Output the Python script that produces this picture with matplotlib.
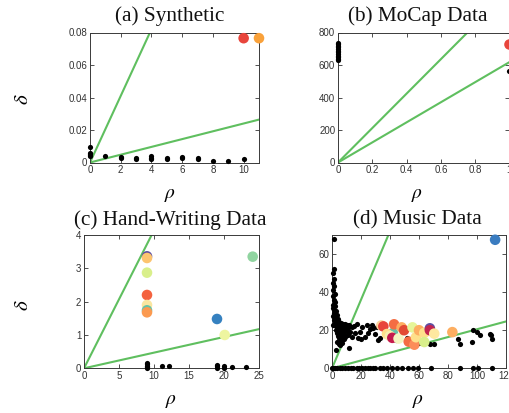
import matplotlib
matplotlib.use('Agg')
import matplotlib.pyplot as plt
import numpy as np

# Schriften: Titel in Times-artig, Ticks Helvetica-artig, Griechisch per mathtext (stix)
plt.rcParams['font.family'] = ['Liberation Sans', 'DejaVu Sans']
plt.rcParams['mathtext.fontset'] = 'stix'

GREEN = '#5fbf5f'
FRAME = '#3a3a3a'

# ---- (a) Synthetic ----
a_rho_black = [0, 0, 0, 0, 0, 1, 2, 2, 3, 3, 4, 4, 4, 5, 5, 6, 6, 7, 7, 8, 9, 10]
a_delta_black = [0.0095, 0.006, 0.0052, 0.0045, 0.004, 0.0042, 0.0033, 0.0025,
                 0.0028, 0.0022, 0.0038, 0.003, 0.0024, 0.0028, 0.0022, 0.0034,
                 0.0025, 0.003, 0.002, 0.0008, 0.0012, 0.0023]
a_rho_peak = [10, 11]
a_delta_peak = [0.0765, 0.0765]
a_colors = ['#e8453c', '#f9a13a']
a_slopes = [0.0205, 0.0024]

# ---- (b) MoCap Data ----
b_rho_black = [0, 0, 0, 0, 0, 0, 0, 0, 0, 0, 0, 0, 1.0]
b_delta_black = [628, 638, 648, 658, 668, 678, 688, 698, 708, 718, 728, 736, 565]
b_rho_peak = [1.0]
b_delta_peak = [732]
b_colors = ['#e8453c']
b_slopes = [1060, 618]

# ---- (c) Hand-Writing Data ----
c_rho_black = [9, 9, 9, 9, 9, 11.1, 12.1, 19, 19, 19, 20, 20, 21.1, 23.1]
c_delta_black = [0.0, 0.04, 0.08, 0.12, 0.15, 0.06, 0.07, 0.02, 0.06, 0.1,
                 0.02, 0.06, 0.05, 0.04]
c_rho_peak = [9, 9, 9, 9, 9, 9, 9, 19, 20.1, 24.1]
c_delta_peak = [3.36, 3.31, 2.87, 2.2, 1.9, 1.74, 1.68, 1.48, 1.0, 3.35]
c_colors = ['#5e4fa2', '#fdc46f', '#d9ef8b', '#f4623f', '#fae6a0', '#66c2a5',
            '#fb9a50', '#3581c0', '#eef5a0', '#90d4a0']
c_slopes = [0.414, 0.047]

# ---- (d) Music Data ----
d_rho_black = [1.5, 1.5, 1, 1.2, 0.8, 1.5, 1, 1.8, 0.6, 1.2, 2, 1, 2.2, 0.7, 1.6,
               2.8, 1.2, 2.4, 3.5, 0.8, 1.8, 3, 4.2, 1.3, 2.6, 3.8, 5, 2, 6.5,
               3.2, 1, 4.5, 7.5, 9, 2.8, 5.8, 8.2, 10.5, 12, 3.6, 4.8, 6.8, 9.5,
               11.2, 13.5, 2.5, 5.5, 7.8, 10, 12.5, 3.2, 6.2, 8.5, 4.2, 7, 9.2,
               11, 5, 6, 8, 3.5, 4.8, 7.2, 5.8, 2.5, 11.7,
               15, 17, 19.3, 21, 22.8, 23.9, 26.2, 27.4, 29.7, 31, 32, 33, 25,
               18, 16, 14, 20, 28, 40, 44, 52, 53, 58, 60, 67.6, 70, 87, 88.5,
               96.3, 97.5, 99.8, 102, 109, 109.6, 110,
               0, 1, 2, 3.2, 5.5, 7, 9, 11.3, 13, 14.7, 17, 18.5, 20.5, 22.8,
               24.5, 26.2, 28, 29.7, 33.1, 35.4, 37.7, 41.1, 44.6, 48, 52.6, 56,
               59.5, 68.5, 88, 97, 100.5, 110]
d_delta_black = [68, 52, 50, 47, 45, 43, 41, 39, 38, 36, 35, 33.5, 32.5, 31.5,
                 30.5, 30, 29, 28.2, 28, 27.5, 27, 26.5, 26, 25.5, 25, 24.5,
                 24.2, 24, 24, 23.5, 23, 23, 23.2, 23.5, 22.2, 22, 22, 22.5, 23,
                 21.2, 20.5, 21, 21, 21, 21.5, 20, 19.5, 19.8, 19.5, 19.2, 18.5,
                 18.2, 18, 17.2, 16.8, 16.5, 17.5, 15.8, 14.5, 15.2, 14, 13,
                 13.2, 12, 9.5, 10.8,
                 22, 23.5, 19, 21.5, 16.4, 22.5, 20.8, 22.5, 18.2, 21.8, 15, 16,
                 18.5, 16, 18.5, 16.5, 15.2, 21, 16, 15, 16, 14, 14.5, 13.5, 13,
                 13, 15.6, 13, 13.9, 20, 19.1, 17.4, 18.2, 17.4, 15.6,
                 0, 0, 0, 0, 0, 0, 0, 0, 0, 0, 0, 0, 0, 0, 0, 0, 0, 0, 0, 0, 0,
                 0, 0, 0, 0, 0, 0, 0, 0, 0, 0, 0]
d_rho_peak = [42, 34, 35.4, 37.9, 40, 41.6, 42.8, 45.9, 48, 49.7, 52.9, 55.5,
              56.8, 57.9, 60, 63.6, 63.6, 67.5, 67.5, 70.5, 83, 112.5]
d_delta_peak = [18.5, 22.5, 22, 18, 17, 16, 23.1, 15.6, 21.5, 20, 14, 21.5,
                12.4, 16.3, 20, 18.6, 13.8, 21, 20, 18.2, 19, 67.5]
d_colors = ['#66c2a5', '#fdd49e', '#e8453c', '#fee08b', '#f7f0b0', '#c51b4d',
            '#f46d43', '#f5f5c0', '#fdae61', '#e34a33', '#f46d43', '#e6f598',
            '#fc8d59', '#fee08b', '#fdae61', '#fee08b', '#d9ef8b', '#5e4fa2',
            '#c2254f', '#fee8a0', '#fdae61', '#3a7cc0']
d_slopes = [1.80, 0.205]


def draw_panel(ax, rho_b, delta_b, rho_p, delta_p, colors, slopes,
               xlim, ylim, xticks, yticks, xfmt, yfmt):
    """Ein Entscheidungsdiagramm (rho, delta) zeichnen"""
    # Geraden durch den Ursprung
    xs = np.array([0, xlim[1] * 1.5])
    for k in slopes:
        ax.plot(xs, k * xs, color=GREEN, lw=1.5, zorder=2)
    # normale Punkte
    ax.scatter(rho_b, delta_b, s=14, color='black', lw=0, zorder=3, clip_on=False)
    # Clusterzentren
    ax.scatter(rho_p, delta_p, s=58, c=colors, lw=0, zorder=4, clip_on=False)

    ax.set_xlim(xlim)
    ax.set_ylim(ylim)
    ax.set_xticks(xticks)
    ax.set_yticks(yticks)
    ax.set_xticklabels([xfmt(v) for v in xticks])
    ax.set_yticklabels([yfmt(v) for v in yticks])
    ax.tick_params(direction='in', length=3, width=0.6, top=True, right=True,
                   labelsize=7, colors='#333333', pad=2)
    for sp in ax.spines.values():
        sp.set_color(FRAME)
        sp.set_linewidth(0.7)


fig = plt.figure(figsize=(5.09, 4.13), dpi=100)
W, H = 509.0, 413.0


def box(left, top, right, bottom):
    # Pixel-Koordinaten (oben links) -> Figurenanteil
    return [left / W, 1 - bottom / H, (right - left) / W, (bottom - top) / H]


ax_a = fig.add_axes(box(90, 32.5, 259, 162.5))
ax_b = fig.add_axes(box(338, 32.5, 509.5, 162.5))
ax_c = fig.add_axes(box(84, 235, 259, 368.3))
ax_d = fig.add_axes(box(332, 235, 506, 368.3))


def fmt_plain(v):
    return '%g' % v


draw_panel(ax_a, a_rho_black, a_delta_black, a_rho_peak, a_delta_peak, a_colors,
           a_slopes, (0, 11), (0, 0.08), [0, 2, 4, 6, 8, 10],
           [0, 0.02, 0.04, 0.06, 0.08], fmt_plain,
           lambda v: '0' if v == 0 else '%.2f' % v)
draw_panel(ax_b, b_rho_black, b_delta_black, b_rho_peak, b_delta_peak, b_colors,
           b_slopes, (0, 1), (0, 800), [0, 0.2, 0.4, 0.6, 0.8, 1.0],
           [0, 200, 400, 600, 800], fmt_plain, fmt_plain)
draw_panel(ax_c, c_rho_black, c_delta_black, c_rho_peak, c_delta_peak, c_colors,
           c_slopes, (0, 25), (0, 4), [0, 5, 10, 15, 20, 25],
           [0, 1, 2, 3, 4], fmt_plain, fmt_plain)
draw_panel(ax_d, d_rho_black, d_delta_black, d_rho_peak, d_delta_peak, d_colors,
           d_slopes, (0, 120), (0, 70), [0, 20, 40, 60, 80, 100, 120],
           [0, 20, 40, 60], fmt_plain, fmt_plain)

# Titel (Times-artig)
serif = ['Liberation Serif', 'DejaVu Serif']
titles = [('(a) Synthetic', 170, 20.7), ('(b) MoCap Data', 417.5, 20.7),
          ('(c) Hand-Writing Data', 170, 224.8), ('(d) Music Data', 417.5, 224.8)]
for txt, x, y in titles:
    fig.text(x / W, 1 - y / H, txt, family=serif, fontsize=15.3,
             ha='center', va='baseline', color='#111111')

# Achsenbeschriftungen
for x, y in [(170, 195), (417, 195), (171, 402), (418, 402)]:
    fig.text(x / W, 1 - y / H, r'$\rho$', fontsize=14, ha='center', va='center')
for y in [99, 305]:
    fig.text(23 / W, 1 - y / H, r'$\delta$', fontsize=15, ha='center',
             va='center', rotation=90)

fig.savefig('out.png', dpi=100)
